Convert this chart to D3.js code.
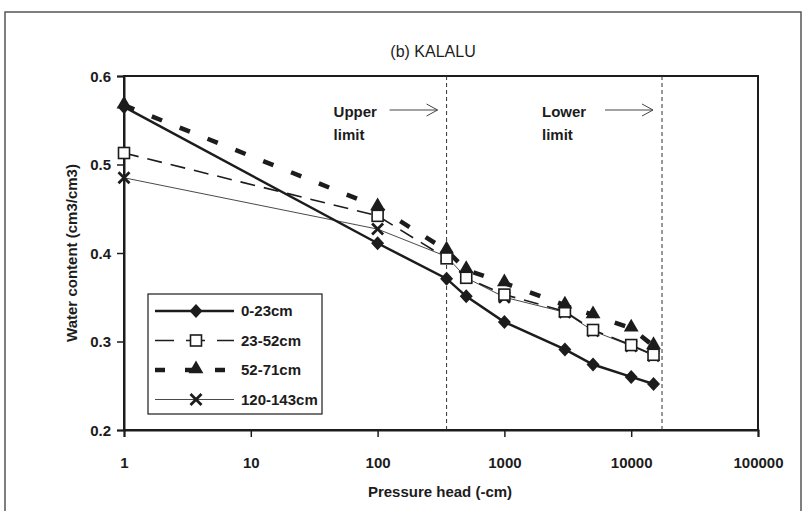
<!DOCTYPE html>
<html>
<head>
<meta charset="utf-8">
<script src="https://cdn.jsdelivr.net/npm/d3@7"></script>
<style>
  body { margin: 0; background: #fff; }
  text { font-family: "Liberation Sans", Arial, sans-serif; fill: #1c1c1c; font-weight: bold; }
</style>
</head>
<body>
<div id="chart"></div>
<script>
// pressure heads (-cm) and measured water contents
var pressure = [1, 100, 350, 500, 1000, 3000, 5000, 10000, 15000];
var s0_23 = [0.565, 0.411, 0.371, 0.351, 0.322, 0.291, 0.274, 0.260, 0.252];
var s23_52 = [0.513, 0.442, 0.394, 0.372, 0.353, 0.334, 0.313, 0.296, 0.285];
var s52_71 = [0.567, 0.452, 0.403, 0.381, 0.366, 0.341, 0.330, 0.315, 0.295];
var s120_143 = [0.485, 0.427, 0.396, 0.372, 0.350, 0.333, 0.312, 0.295, 0.284];
var seriesNames = ["0-23cm", "23-52cm", "52-71cm", "120-143cm"];
var xTicks = [1, 10, 100, 1000, 10000, 100000];
var yTicks = [0.2, 0.3, 0.4, 0.5, 0.6];
var limits = [350, 17500];
var limitNames = ["Upper", "Lower"];

var W = 803, H = 511;
var svg = d3.select("#chart").append("svg")
	.attr("width", W)
	.attr("height", H);

// outer frame of the scanned figure
svg.append("path")
	.attr("d", "M5," + H + "V12H801V" + H)
	.attr("fill", "none")
	.attr("stroke", "#555")
	.attr("stroke-width", 1.5);

var x = d3.scaleLog().domain([1, 100000]).range([124, 758]);
var y = d3.scaleLinear().domain([0.2, 0.6]).range([430, 76]);

// plot box
svg.append("rect")
	.attr("x", x(1)).attr("y", y(0.6))
	.attr("width", x(100000) - x(1))
	.attr("height", y(0.2) - y(0.6))
	.attr("fill", "none")
	.attr("stroke", "#1c1c1c")
	.attr("stroke-width", 2);

// axes
var xAxis = svg.append("g")
	.attr("transform", "translate(0," + y(0.2) + ")")
	.call(d3.axisBottom(x).tickValues(xTicks).tickFormat(d3.format("d")).tickSize(7).tickPadding(20));
var yAxis = svg.append("g")
	.attr("transform", "translate(" + x(1) + ",0)")
	.call(d3.axisLeft(y).tickValues(yTicks).tickFormat(d3.format(".1f")).tickSize(7).tickPadding(6));
[xAxis, yAxis].forEach(function(a) {
	a.select(".domain").attr("stroke", "#1c1c1c").attr("stroke-width", 2);
	a.selectAll(".tick line").attr("stroke", "#1c1c1c").attr("stroke-width", 1.5);
	a.selectAll(".tick text").style("font-size", "15px").attr("fill", "#1c1c1c");
});
yAxis.selectAll(".tick text").attr("dy", "0.35em");

// limit lines
svg.selectAll(".limit")
	.data(limits)
	.enter().append("line")
	.attr("x1", function(d) { return x(d); })
	.attr("x2", function(d) { return x(d); })
	.attr("y1", y(0.6)).attr("y2", y(0.2))
	.attr("stroke", "#333")
	.attr("stroke-width", 1)
	.attr("stroke-dasharray", "4,3");

limits.forEach(function(d, i) {
	var lx = x(d);
	var tx = i == 0 ? lx - 113 : lx - 120;
	svg.append("text").attr("x", tx).attr("y", 117).style("font-size", "15px").text(limitNames[i]);
	svg.append("text").attr("x", tx).attr("y", 140).style("font-size", "15px").text("limit");
	var ay = 110;
	svg.append("path")
		.attr("d", "M" + (lx - 57) + "," + ay + "H" + (lx - 9) + "M" + (lx - 20) + "," + (ay - 6) + "L" + (lx - 9) + "," + ay + "L" + (lx - 20) + "," + (ay + 6))
		.attr("fill", "none")
		.attr("stroke", "#444")
		.attr("stroke-width", 1);
});

// series
var seriesData = [s0_23, s23_52, s52_71, s120_143];
var styles = [
	{ width: 2.5, dash: null, marker: "diamond" },
	{ width: 1.6, dash: "15,9", marker: "square" },
	{ width: 4.5, dash: "11,19", marker: "triangle" },
	{ width: 0.8, dash: null, marker: "cross" }
];

var line = d3.line()
	.x(function(d) { return x(d[0]); })
	.y(function(d) { return y(d[1]); });

function drawMarker(g, type, cx, cy) {
	if (type == "diamond") {
		g.append("path").attr("d", "M" + cx + "," + (cy - 7) + "L" + (cx + 6.5) + "," + cy + "L" + cx + "," + (cy + 7) + "L" + (cx - 6.5) + "," + cy + "Z").attr("fill", "#1c1c1c");
	} else if (type == "square") {
		g.append("rect").attr("x", cx - 5.5).attr("y", cy - 5.5).attr("width", 11).attr("height", 11)
			.attr("fill", "#fff").attr("stroke", "#1c1c1c").attr("stroke-width", 1.6);
	} else if (type == "triangle") {
		g.append("path").attr("d", d3.symbol(d3.symbolTriangle, 95)()).attr("transform", "translate(" + cx + "," + (cy - 1) + ")").attr("fill", "#1c1c1c");
	} else {
		g.append("path").attr("d", "M" + (cx - 5.5) + "," + (cy - 5.5) + "L" + (cx + 5.5) + "," + (cy + 5.5) + "M" + (cx + 5.5) + "," + (cy - 5.5) + "L" + (cx - 5.5) + "," + (cy + 5.5))
			.attr("stroke", "#1c1c1c").attr("stroke-width", 2.8);
	}
}

// draw lines first, markers on top in series order
var order = [3, 1, 2, 0];
order.forEach(function(i) {
	var pts = pressure.map(function(p, j) { return [p, seriesData[i][j]]; });
	svg.append("path")
		.datum(pts)
		.attr("d", line)
		.attr("fill", "none")
		.attr("stroke", "#1c1c1c")
		.attr("stroke-width", styles[i].width)
		.attr("stroke-dasharray", styles[i].dash);
});
order.forEach(function(i) {
	var g = svg.append("g");
	pressure.forEach(function(p, j) {
		drawMarker(g, styles[i].marker, x(p), y(seriesData[i][j]));
	});
});

// legend
var leg = svg.append("g");
leg.append("rect")
	.attr("x", 148).attr("y", 294)
	.attr("width", 174).attr("height", 120)
	.attr("fill", "#fff")
	.attr("stroke", "#1c1c1c")
	.attr("stroke-width", 1.2);
seriesNames.forEach(function(name, i) {
	var ly = 311 + i * 29.5;
	leg.append("line")
		.attr("x1", 155).attr("x2", 234)
		.attr("y1", ly).attr("y2", ly)
		.attr("stroke", "#1c1c1c")
		.attr("stroke-width", styles[i].width)
		.attr("stroke-dasharray", styles[i].dash ? (i == 1 ? "19,12" : "10,20") : null);
	drawMarker(leg, styles[i].marker, 196, ly);
	leg.append("text")
		.attr("x", 241).attr("y", ly)
		.attr("dy", "0.35em")
		.style("font-size", "15px")
		.text(name);
});

// titles
svg.append("text")
	.attr("x", 433).attr("y", 57)
	.attr("text-anchor", "middle")
	.style("font-size", "16px")
	.style("font-weight", "normal")
	.text("(b) KALALU");
svg.append("text")
	.attr("x", 440).attr("y", 497)
	.attr("text-anchor", "middle")
	.style("font-size", "15px")
	.text("Pressure head (-cm)");
svg.append("text")
	.attr("transform", "translate(77," + ((y(0.6) + y(0.2)) / 2) + ") rotate(-90)")
	.attr("text-anchor", "middle")
	.style("font-size", "15px")
	.text("Water content (cm3/cm3)");
</script>
</body>
</html>
